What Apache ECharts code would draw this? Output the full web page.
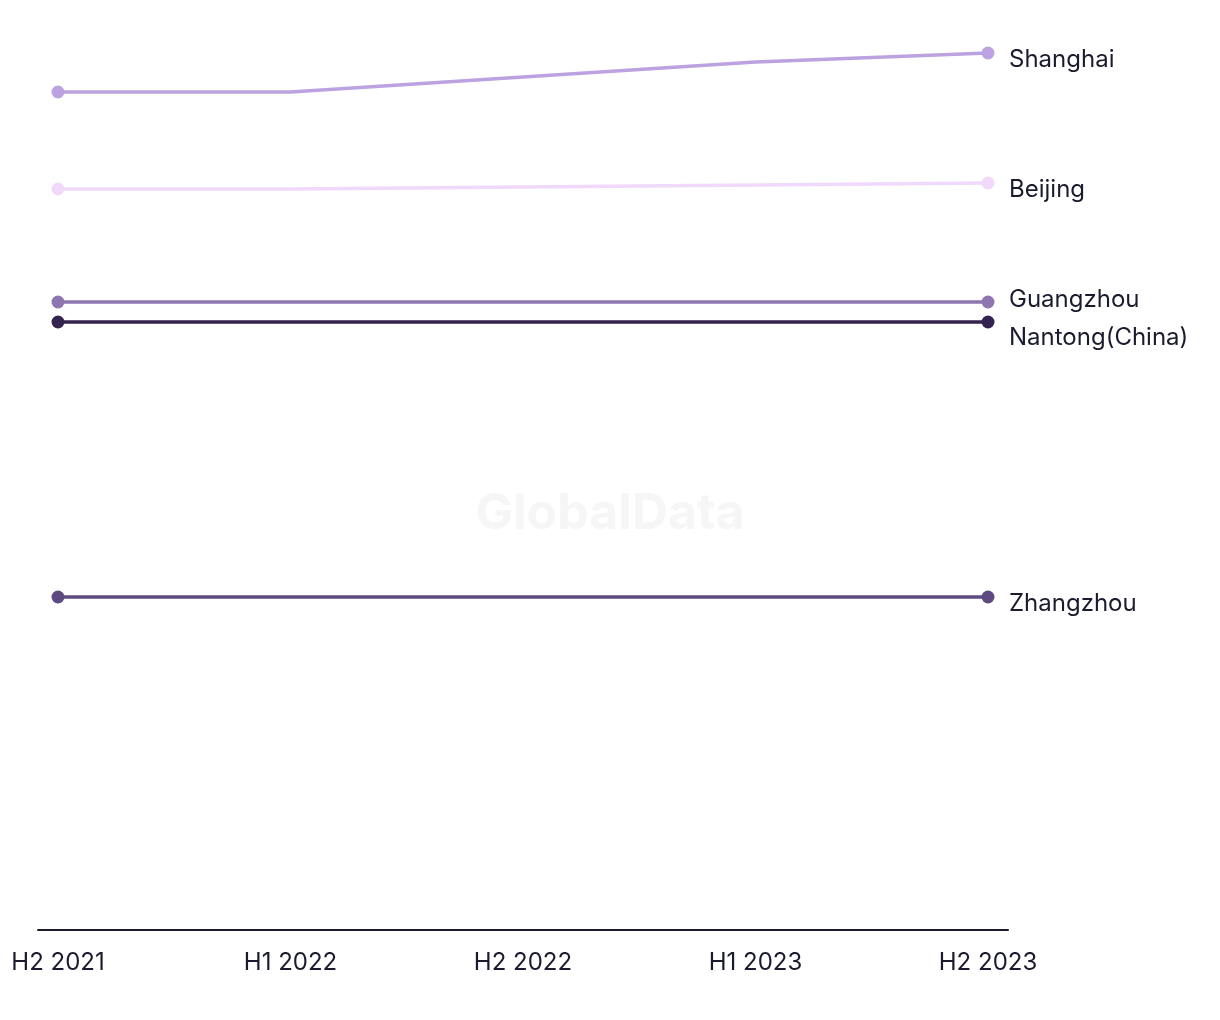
<!DOCTYPE html>
<html>
<head>
<meta charset="utf-8">
<script src="https://cdn.jsdelivr.net/npm/echarts@6/dist/echarts.min.js"></script>
<style>html,body{margin:0;padding:0;background:#fff}#c{width:1220px;height:1020px}</style>
</head>
<body>
<div id="c"></div>
<script>
const categories = ['H2 2021', 'H1 2022', 'H2 2022', 'H1 2023', 'H2 2023'];
const shanghai = [83.8, 83.8, 85.3, 86.8, 87.7];
const beijing = [74.1, 74.1, 74.3, 74.5, 74.7];
const guangzhou = [62.8, 62.8, 62.8, 62.8, 62.8];
const nantong = [60.8, 60.8, 60.8, 60.8, 60.8];
const zhangzhou = [33.3, 33.3, 33.3, 33.3, 33.3];

const seriesDefs = [
  {name: 'Shanghai', data: shanghai, color: '#bca2e0', dy: 7},
  {name: 'Beijing', data: beijing, color: '#f0d9fa', dy: 7},
  {name: 'Guangzhou', data: guangzhou, color: '#8e77b1', dy: -2},
  {name: 'Nantong(China)', data: nantong, color: '#35234f', dy: 16},
  {name: 'Zhangzhou', data: zhangzhou, color: '#5f4981', dy: 7}
];
const FONT = 'Inter, "Noto Sans", sans-serif';
const lastIdx = categories.length - 1;
const chart = echarts.init(document.getElementById('c'));
chart.setOption({
  animation: false,
  backgroundColor: '#fff',
  title: {
    text: 'GlobalData', left: 'center', top: 484,
    textStyle: {color: '#f6f6f6', fontSize: 50, fontWeight: 'bold', fontFamily: FONT}
  },
  grid: [
    {left: 58, right: 232, top: 30, bottom: 90},
    {left: 38, right: 212, top: 30, bottom: 90}
  ],
  xAxis: [
    {
      type: 'category', data: categories, boundaryGap: false, gridIndex: 0,
      axisLine: {show: false}, axisTick: {show: false},
      axisLabel: {color: '#1b1b2f', fontSize: 24, fontFamily: FONT, margin: 21},
      splitLine: {show: false}
    },
    {
      type: 'value', gridIndex: 1, min: 0, max: 1,
      axisLine: {show: true, onZero: false, lineStyle: {color: '#1b1b2f', width: 2}},
      axisTick: {show: false}, axisLabel: {show: false}, splitLine: {show: false}
    }
  ],
  yAxis: [
    {type: 'value', min: 0, max: 90, gridIndex: 0, show: false},
    {type: 'value', min: 0, max: 1, gridIndex: 1, show: false}
  ],
  series: seriesDefs.map(s => ({
    type: 'line', name: s.name, data: s.data,
    xAxisIndex: 0, yAxisIndex: 0,
    symbol: (v, p) => (p.dataIndex === 0 || p.dataIndex === lastIdx) ? 'circle' : 'none',
    symbolSize: 13, showSymbol: true,
    lineStyle: {color: s.color, width: 3.5},
    itemStyle: {color: s.color},
    endLabel: {
      show: true, formatter: s.name, distance: 21, offset: [0, s.dy],
      color: '#1b1b2f', fontSize: 24, fontFamily: FONT
    }
  }))
});
</script>
</body>
</html>
